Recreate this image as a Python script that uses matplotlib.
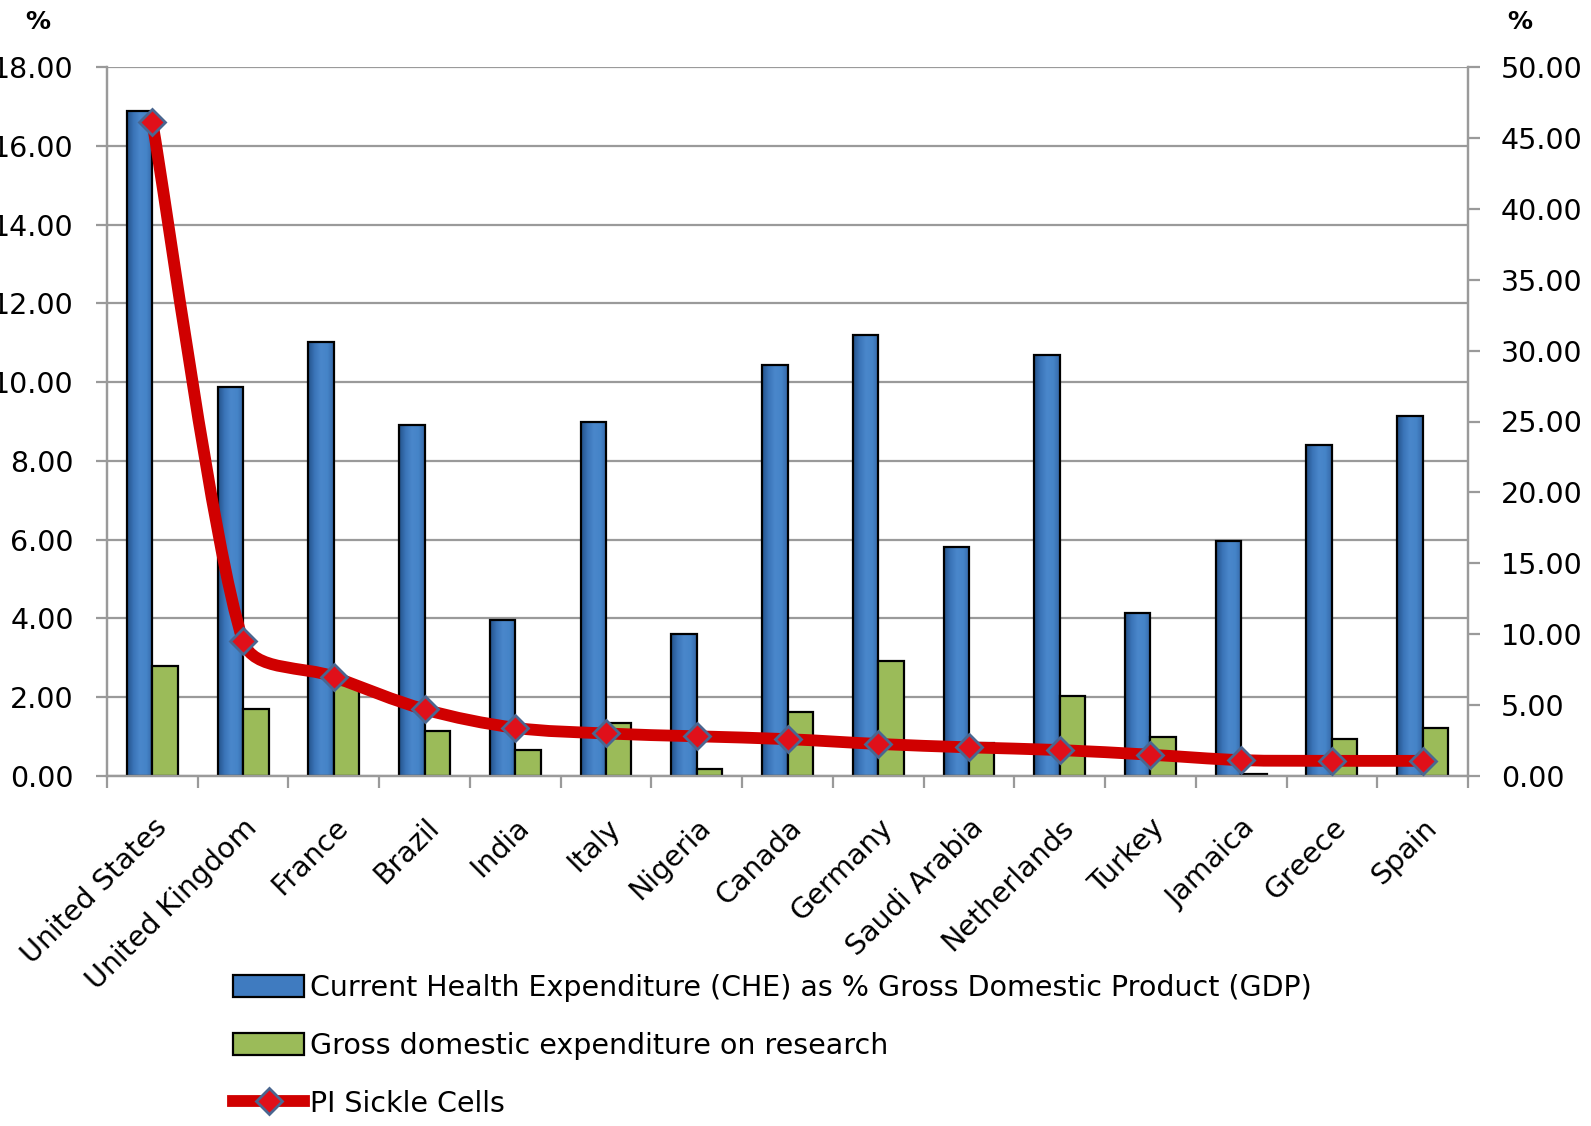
import numpy as np
import matplotlib
matplotlib.use('Agg')
import matplotlib.pyplot as plt
from matplotlib.path import Path
from matplotlib.patches import PathPatch, Patch
from matplotlib.lines import Line2D
from matplotlib.colors import LinearSegmentedColormap

countries = ['United States', 'United Kingdom', 'France', 'Brazil', 'India', 'Italy',
             'Nigeria', 'Canada', 'Germany', 'Saudi Arabia', 'Netherlands', 'Turkey',
             'Jamaica', 'Greece', 'Spain']
# CHE as % GDP (left axis)
che = [16.89, 9.87, 11.03, 8.92, 3.95, 9.00, 3.60, 10.44, 11.19, 5.81, 10.70, 4.13,
       5.96, 8.40, 9.13]
# gross domestic expenditure on research (left axis)
gerd = [2.79, 1.69, 2.30, 1.14, 0.67, 1.35, 0.19, 1.62, 2.93, 0.85, 2.03, 1.00,
        0.06, 0.94, 1.21]
# PI sickle cells (right axis)
pi_sc = [46.1, 9.5, 7.0, 4.7, 3.4, 3.0, 2.8, 2.6, 2.26, 2.02, 1.83, 1.5, 1.12, 1.07, 1.07]

lab_che = 'Current Health Expenditure (CHE) as % Gross Domestic Product (GDP)'
lab_gerd = 'Gross domestic expenditure on research'
lab_pi = 'PI Sickle Cells'

plt.rcParams['font.family'] = ['DejaVu Sans']

W, H = 1591, 1126
fig = plt.figure(figsize=(W / 100, H / 100), dpi=100)
L, R, T, B = 107, 1468, 67, 776
ax1 = fig.add_axes([L / W, 1 - B / H, (R - L) / W, (B - T) / H])
ax2 = ax1.twinx()

gray = '#9a9a9a'
x = np.arange(len(countries))
bw = 0.28

blue_bars = ax1.bar(x - bw / 2, che, width=bw, facecolor='none', edgecolor='black',
                    linewidth=1.6, zorder=3)
ax1.bar(x + bw / 2, gerd, width=bw, facecolor='#9BBB59', edgecolor='black',
        linewidth=1.6, zorder=3)

# excel style shading on the blue bars
cmap = LinearSegmentedColormap.from_list('shade', ['#24528a', '#3a74b8', '#4a87cb', '#4584c8', '#3669a8'])
grad = np.linspace(0, 1, 64).reshape(1, -1)
for b in blue_bars:
    x0, y0 = b.get_x(), b.get_y()
    im = ax1.imshow(grad, cmap=cmap, aspect='auto', zorder=2.5,
                    extent=[x0, x0 + b.get_width(), y0, y0 + b.get_height()])
    im.set_clip_path(b)

ax1.set_xlim(-0.5, len(countries) - 0.5)
ax1.set_ylim(0, 18)
ax2.set_ylim(0, 50)

ax1.set_yticks(np.arange(0, 18.1, 2))
ax1.set_yticklabels(['%.2f' % v for v in np.arange(0, 18.1, 2)])
ax2.set_yticks(np.arange(0, 50.1, 5))
ax2.set_yticklabels(['%.2f' % v for v in np.arange(0, 50.1, 5)])

ax1.set_axisbelow(True)
ax1.yaxis.grid(True, color=gray, linewidth=1.6)

ax1.set_xticks(x)
ax1.set_xticklabels(countries, rotation=45, ha='right', va='top', rotation_mode='anchor')
ax1.set_xticks(np.arange(-0.5, len(countries), 1), minor=True)
ax1.tick_params(axis='x', which='major', length=0, pad=27, labelsize=20.5)
ax1.tick_params(axis='x', which='minor', length=8.5, width=1.6, color=gray)
ax1.tick_params(axis='y', length=8, width=1.6, color=gray, pad=16, labelsize=20.5)
ax2.tick_params(axis='y', length=8.5, width=1.6, color=gray, pad=15, labelsize=20.5)

for ax in (ax1, ax2):
    ax.spines['top'].set_visible(False)
    for s in ('left', 'right', 'bottom'):
        ax.spines[s].set_color(gray)
        ax.spines[s].set_linewidth(1.6)

# smoothed line (bezier through the points, like excel's smoothing)
fig.canvas.draw()
pts = ax2.transData.transform(np.column_stack([x, pi_sc]))
n = len(pts)
verts = [pts[0]]
codes = [Path.MOVETO]
for i in range(n - 1):
    p0 = pts[max(i - 1, 0)]
    p1 = pts[i]
    p2 = pts[i + 1]
    p3 = pts[min(i + 2, n - 1)]
    seg = np.linalg.norm(p2 - p1)
    t1 = (p2 - p0) / 6.0
    t2 = (p3 - p1) / 6.0
    if np.linalg.norm(t1) > seg / 3:
        t1 = t1 / np.linalg.norm(t1) * seg / 3
    if np.linalg.norm(t2) > seg / 3:
        t2 = t2 / np.linalg.norm(t2) * seg / 3
    verts += [p1 + t1, p2 - t2, p2]
    codes += [Path.CURVE4, Path.CURVE4, Path.CURVE4]
verts = ax2.transData.inverted().transform(np.array(verts))
red = '#d00000'
ax2.add_patch(PathPatch(Path(verts, codes), fill=False, edgecolor=red, linewidth=8.5,
                        capstyle='round', joinstyle='round', zorder=4))
ax2.plot(x, pi_sc, linestyle='none', marker='D', markersize=13, markerfacecolor='#e0101a',
         markeredgecolor='#4a6690', markeredgewidth=2, zorder=5)

fig.text(38 / W, 1 - 22 / H, '%', ha='center', va='center', fontsize=18, fontweight='bold')
fig.text(1520 / W, 1 - 22 / H, '%', ha='center', va='center', fontsize=18, fontweight='bold')

handles = [Patch(facecolor='#3f7bc0', edgecolor='black', linewidth=1.6),
           Patch(facecolor='#9BBB59', edgecolor='black', linewidth=1.6),
           Line2D([], [], color=red, linewidth=8.5, marker='D', markersize=13,
                  markerfacecolor='#e0101a', markeredgecolor='#4a6690', markeredgewidth=2)]
fig.legend(handles, [lab_che, lab_gerd, lab_pi], loc='upper left',
           bbox_to_anchor=(233 / W, 1 - 974 / H), frameon=False, fontsize=20.5,
           handlelength=2.5, handleheight=0.78, handletextpad=0.2, labelspacing=1.05,
           borderpad=0, borderaxespad=0)

fig.savefig('out.png', dpi=100)
